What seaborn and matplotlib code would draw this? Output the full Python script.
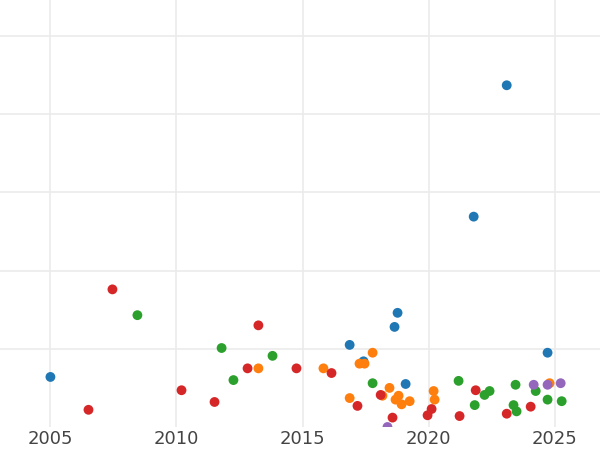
import matplotlib
matplotlib.use("Agg")
import matplotlib.pyplot as plt
import seaborn as sns
import pandas as pd

# values (year, value)
blue_x = [2005.0, 2017.42, 2016.87, 2018.77, 2018.65, 2019.09, 2021.79, 2023.10, 2024.72]
blue_y = [0.64, 0.84, 1.05, 1.46, 1.28, 0.55, 2.69, 4.37, 0.95]
orange_x = [2013.25, 2015.83, 2016.87, 2017.26, 2017.46, 2017.78, 2018.17, 2018.45,
            2018.69, 2018.81, 2018.93, 2019.25, 2020.20, 2020.24, 2024.80]
orange_y = [0.75, 0.75, 0.37, 0.81, 0.81, 0.95, 0.40, 0.50, 0.35, 0.40, 0.29, 0.33,
            0.46, 0.35, 0.56]
green_x = [2008.45, 2011.79, 2012.26, 2013.81, 2017.78, 2021.19, 2021.83, 2022.22,
           2022.42, 2023.45, 2023.37, 2023.49, 2024.25, 2024.72, 2025.28]
green_y = [1.43, 1.01, 0.60, 0.91, 0.56, 0.59, 0.28, 0.41, 0.46, 0.54, 0.28, 0.20,
           0.46, 0.35, 0.33]
red_x = [2006.51, 2007.46, 2010.20, 2011.51, 2012.82, 2013.25, 2014.76, 2016.15,
         2017.18, 2018.10, 2018.57, 2019.96, 2020.12, 2021.23, 2021.87, 2023.10, 2024.05]
red_y = [0.22, 1.76, 0.47, 0.32, 0.75, 1.30, 0.75, 0.69, 0.27, 0.41, 0.12, 0.15,
         0.23, 0.14, 0.47, 0.17, 0.26]
purple_x = [2018.37, 2024.17, 2024.72, 2025.24]
purple_y = [0.0, 0.54, 0.54, 0.56]

groups = ["a", "b", "c", "d", "e"]
xs = [blue_x, orange_x, green_x, red_x, purple_x]
ys = [blue_y, orange_y, green_y, red_y, purple_y]
df = pd.concat([pd.DataFrame({"year": x, "value": y, "group": g})
                for g, x, y in zip(groups, xs, ys)])

sns.set_theme(style="whitegrid")
fig = plt.figure(figsize=(6, 4.5), dpi=100)
ax = fig.add_axes([0, 23 / 450, 1, 1 - 23 / 450])
sns.scatterplot(data=df, x="year", y="value", hue="group", palette="tab10",
                s=50, linewidth=0, legend=False, ax=ax)
ax.set_xlim(2003.0, 2026.8)
ax.set_ylim(0, 427 / 78.2)
ax.set_xticks([2005, 2010, 2015, 2020, 2025])
ax.set_yticks([1, 2, 3, 4, 5])
ax.set_yticklabels([])
ax.set_xlabel("")
ax.set_ylabel("")
ax.tick_params(axis="x", labelsize=13, labelcolor="#444444", pad=-4)
ax.grid(color="#ebebeb", linewidth=1.2)
for s in ax.spines.values():
    s.set_visible(False)
fig.savefig("out.png", dpi=100)
